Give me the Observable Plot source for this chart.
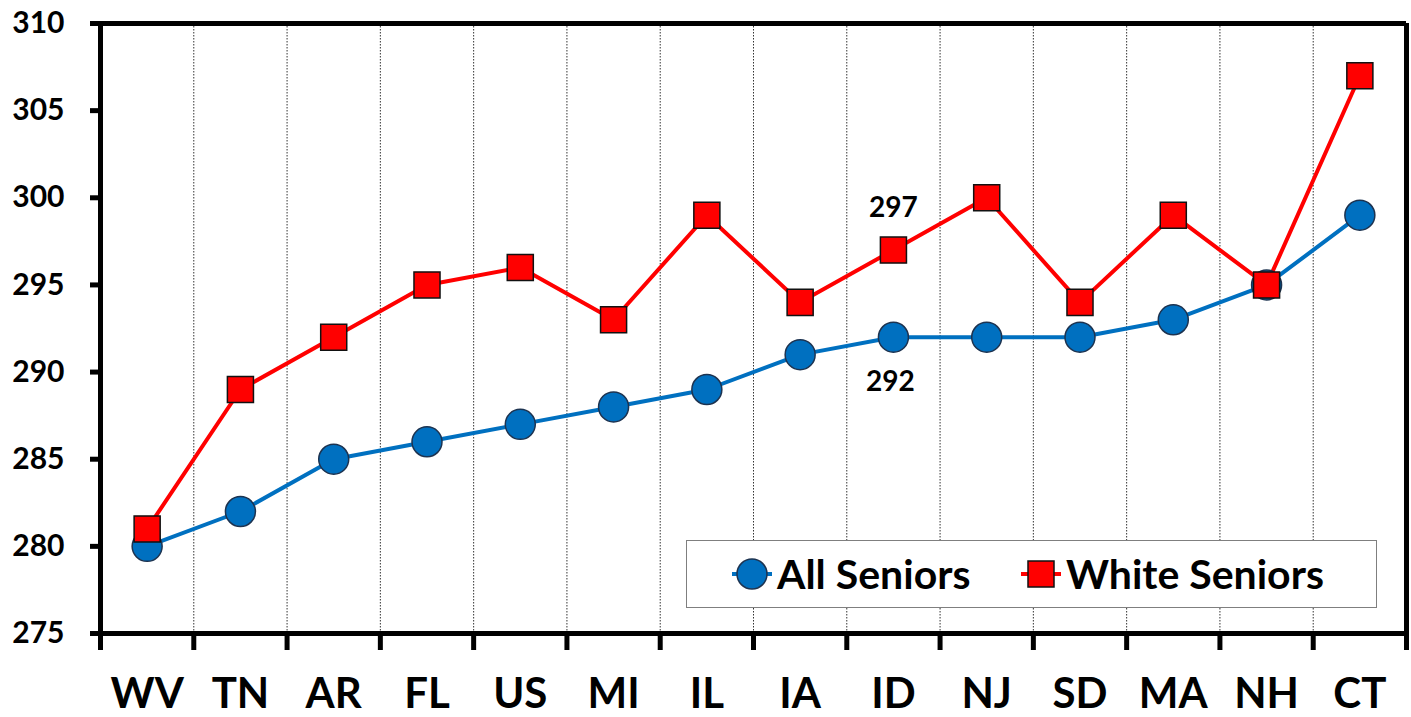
<!DOCTYPE html>
<html><head><meta charset="utf-8">
<script src="https://cdn.jsdelivr.net/npm/d3@7"></script>
<script src="https://cdn.jsdelivr.net/npm/@observablehq/plot@0.6"></script>
<style>
body{margin:0;background:#fff;font-family:Lato,"Open Sans",sans-serif}
#wrap{position:relative;width:1411px;height:717px;overflow:hidden}
#legend{position:absolute;left:686px;top:540px;width:689px;height:66px;border:1.5px solid #7f7f7f;background:#fff}
.lg{position:absolute;font-size:41px;font-weight:bold;color:#000;line-height:1;white-space:nowrap}
</style>
</head><body><div id="wrap"></div>
<script>
const states = ["WV","TN","AR","FL","US","MI","IL","IA","ID","NJ","SD","MA","NH","CT"];
const allSeniors = [280,282,285,286,287,288,289,291,292,292,292,293,295,299];
const whiteSeniors = [281,289,292,295,296,293,299,294,297,300,294,299,295,307];
const yTicks = [275,280,285,290,295,300,305,310];
const seriesNames = ["All Seniors","White Seniors"];
const seriesColors = ["#0070C0","#FF0000"];
const labelState = "ID";

const rows = states.map((s,i)=>({state:s, xi:i+0.5, all:allSeniors[i], white:whiteSeniors[i]}));
const li = states.indexOf(labelState);
const annWhite = [{xi:li+0.5, v:whiteSeniors[li]}];
const annAll = [{xi:li+0.5, v:allSeniors[li]}];
const n = states.length;

const chart = Plot.plot({
  width:1411, height:717,
  marginLeft:100, marginRight:5, marginTop:23, marginBottom:84,
  style:{fontFamily:"Lato, 'Open Sans', sans-serif", background:"#fff", color:"#000"},
  x:{domain:[0,n], axis:null, label:null},
  y:{domain:[275,310], axis:null, label:null},
  marks:[
    Plot.ruleX(d3.range(1,n), {stroke:"#333", strokeWidth:1, strokeDasharray:"1.5,1.5"}),
    Plot.axisY(yTicks, {tickSize:10, strokeWidth:5, fontSize:30, fontWeight:"bold", tickPadding:26, label:null}),
    Plot.axisX(d3.range(0,n+1), {tickSize:17, strokeWidth:5, tickFormat:()=>"", label:null}),
    Plot.axisX(rows.map(d=>d.xi), {tickSize:0, tickPadding:45, fontSize:42, fontWeight:"bold", label:null, tickFormat:(d)=>states[Math.floor(d)]}),
    Plot.ruleY([275], {strokeWidth:5}),
    Plot.ruleY([310], {strokeWidth:5}),
    Plot.ruleX([0], {strokeWidth:5}),
    Plot.ruleX([n], {strokeWidth:5}),
    Plot.line(rows, {x:"xi", y:"all", stroke:seriesColors[0], strokeWidth:4}),
    Plot.line(rows, {x:"xi", y:"white", stroke:seriesColors[1], strokeWidth:4}),
    Plot.dot(rows, {x:"xi", y:"all", r:15, fill:seriesColors[0], stroke:"#1d3350", strokeWidth:1.5}),
    Plot.dot(rows, {x:"xi", y:"white", symbol:"square", r:14.7, fill:seriesColors[1], stroke:"#111", strokeWidth:1.5}),
    Plot.text(annWhite, {x:"xi", y:"v", text:d=>String(d.v), dy:-42, fontSize:28, fontWeight:"bold"}),
    Plot.text(annAll, {x:"xi", y:"v", text:d=>String(d.v), dy:45, dx:-3, fontSize:28, fontWeight:"bold"})
  ]
});
const wrap = document.getElementById("wrap");
wrap.appendChild(chart);

// legend
const lg = document.createElement("div");
lg.id = "legend";
wrap.appendChild(lg);
function icon(left, color, shape){
  const s = `<svg style="position:absolute;left:${left}px;top:554px" width="44" height="40">
    <line x1="2" y1="20" x2="42" y2="20" stroke="${color}" stroke-width="4"/>
    ${shape==="circle" ? `<circle cx="22" cy="20" r="15" fill="${color}" stroke="#1d3350" stroke-width="1.5"/>`
      : `<rect x="9" y="7" width="26" height="26" fill="${color}" stroke="#111" stroke-width="1.5"/>`}
  </svg>`;
  wrap.insertAdjacentHTML("beforeend", s);
}
icon(730, seriesColors[0], "circle");
icon(1019, seriesColors[1], "square");
function label(left, text){
  const d = document.createElement("div");
  d.className = "lg"; d.style.left = left+"px"; d.style.top = "553px"; d.textContent = text;
  wrap.appendChild(d);
}
label(777, seriesNames[0]);
label(1066, seriesNames[1]);
</script>
</body></html>
